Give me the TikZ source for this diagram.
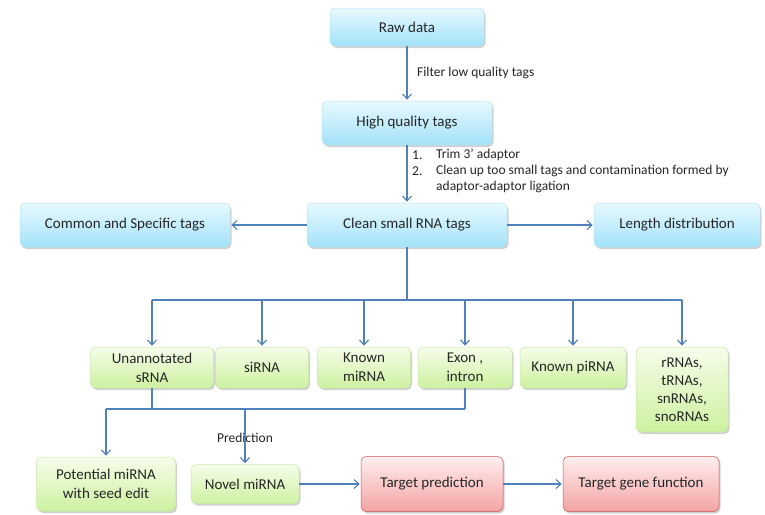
\documentclass[tikz,border=0pt]{standalone}
\usepackage{fontspec}
\setmainfont{Carlito}
\usetikzlibrary{shadows,arrows.meta}
\definecolor{arrowblue}{HTML}{4F81BD}
\definecolor{blueT}{HTML}{E8F9FE}
\definecolor{blueB}{HTML}{A2E2F9}
\definecolor{blueD}{HTML}{B8E4F4}
\definecolor{greenT}{HTML}{F6FDEA}
\definecolor{greenB}{HTML}{CDF1A0}
\definecolor{greenD}{HTML}{C8E8A8}
\definecolor{redT}{HTML}{FFEEEE}
\definecolor{redB}{HTML}{F3A3A3}
\definecolor{redD}{HTML}{CC5555}
\definecolor{txt}{HTML}{262626}
\tikzset{
  boxbase/.style={rounded corners=5pt, align=center, inner sep=0pt, text=txt,
    font=\fontsize{15}{19}\selectfont, line width=0.5pt,
    drop shadow={shadow xshift=1.5pt, shadow yshift=-2pt, opacity=0.3, fill=black!60}},
  bluebox/.style={boxbase, top color=blueT, bottom color=blueB, draw=blueD},
  greenbox/.style={boxbase, top color=greenT, bottom color=greenB, draw=greenD},
  redbox/.style={boxbase, top color=redT, bottom color=redB, draw=redD},
  conn/.style={draw=arrowblue, line width=1.1pt},
  arr/.style={conn, -{Straight Barb[length=5pt,width=9pt,line width=1.1pt]}, shorten >=1pt},
  lbl/.style={font=\fontsize{13.5}{16}\selectfont, text=txt, inner sep=0pt, anchor=west},
}
\begin{document}
\begin{tikzpicture}[x=1pt,y=-1pt]
\useasboundingbox (0,0) rectangle (765,514);
\fill[white] (0,0) rectangle (765,514);

% blue boxes
\node[bluebox, minimum width=154pt, minimum height=38pt] (raw) at (407,27) {Raw data};
\node[bluebox, minimum width=170pt, minimum height=44pt] (hq) at (407,123) {High quality tags};
\node[bluebox, minimum width=210pt, minimum height=44pt] (common) at (125,225) {Common and Specific tags};
\node[bluebox, minimum width=200pt, minimum height=44pt] (clean) at (407,225) {Clean small RNA tags};
\node[bluebox, minimum width=166pt, minimum height=44pt] (length) at (677,225) {Length distribution};

% green boxes
\node[greenbox, minimum width=123pt, minimum height=41pt] (unann) at (152,367.5) {Unannotated\\sRNA};
\node[greenbox, minimum width=93pt, minimum height=41pt] (sirna) at (262,367.5) {siRNA};
\node[greenbox, minimum width=93pt, minimum height=41pt] (mirna) at (364,367.5) {Known\\miRNA};
\node[greenbox, minimum width=94pt, minimum height=41pt] (exon) at (465,367.5) {Exon ,\\intron};
\node[greenbox, minimum width=106pt, minimum height=41pt] (pirna) at (573,367.5) {Known piRNA};
\node[greenbox, minimum width=92pt, minimum height=85pt, font=\fontsize{15}{18}\selectfont] (rrna) at (682,389.5) {rRNAs,\\tRNAs,\\snRNAs,\\snoRNAs};

\node[greenbox, minimum width=139pt, minimum height=54pt] (pot) at (106,484) {Potential miRNA\\with seed edit};
\node[greenbox, minimum width=108pt, minimum height=39pt] (novel) at (245,484) {Novel miRNA};

% red boxes
\node[redbox, minimum width=142pt, minimum height=55pt] (tpred) at (432,484) {Target prediction};
\node[redbox, minimum width=156pt, minimum height=55pt] (tgene) at (641,484) {Target gene function};

% labels
\node[lbl] (lfilter) at (417,73) {Filter low quality tags};
\node[lbl] (n1) at (412,155) {1.};
\node[lbl] (t1) at (436,155) {Trim 3’ adaptor};
\node[lbl] (n2) at (412,171) {2.};
\node[lbl] (t2) at (436,171) {Clean up too small tags and contamination formed by};
\node[lbl] (t3) at (436,187) {adaptor-adaptor ligation};
\node[lbl, anchor=center] (lpred) at (245,438) {Prediction};

% connectors
\draw[arr] (raw) -- (hq);
\draw[arr] (hq) -- (clean);
\draw[arr] (clean) -- (common);
\draw[arr] (clean) -- (length);

\coordinate (j1) at (407,300);
\draw[conn] (clean.south) -- (j1);
\draw[conn] (j1 -| unann) -- (j1 -| rrna);
\foreach \n in {unann,sirna,mirna,exon,pirna,rrna}{
  \draw[arr] (j1 -| \n) -- (\n.north);
}

\coordinate (j2) at (0,409);
\draw[conn] (unann.south) -- (unann.south |- j2);
\draw[conn] (exon.south) -- (exon.south |- j2);
\draw[conn] (j2 -| pot) -- (j2 -| exon);
\draw[arr] (j2 -| pot) -- (pot.north);
\draw[arr] (j2 -| novel) -- (novel.north);

\draw[arr] (novel) -- (tpred);
\draw[arr] (tpred) -- (tgene);
\end{tikzpicture}
\end{document}
